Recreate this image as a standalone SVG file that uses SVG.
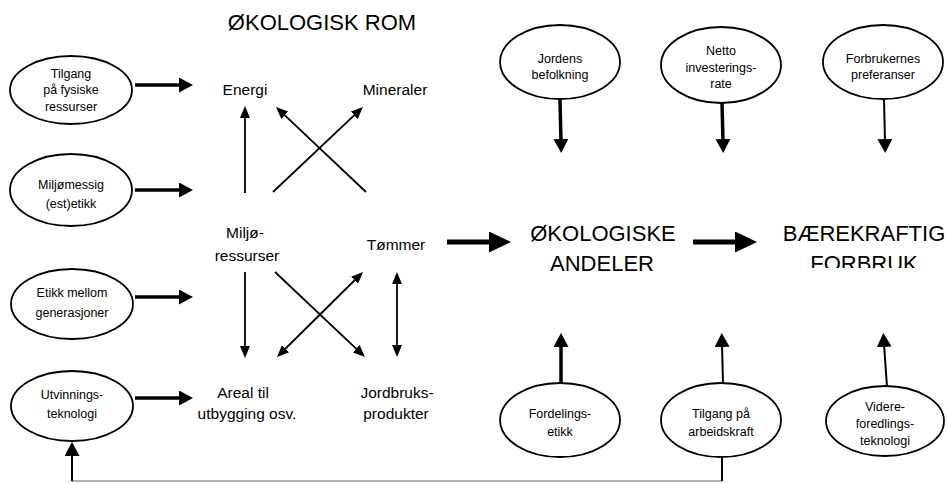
<svg xmlns="http://www.w3.org/2000/svg" width="947" height="483" viewBox="0 0 947 483">
  <style>
    text { font-family: "Liberation Sans", Arial, sans-serif; fill: #000; text-anchor: middle; }
    .small { font-size: 12.5px; }
    .mid { font-size: 15.5px; }
    .big { font-size: 22px; }
    ellipse { fill: #fff; stroke: #000; stroke-width: 1.8; }
    .thin { stroke: #000; stroke-width: 1.8; fill: none; }
    .med { stroke: #000; stroke-width: 3.5; fill: none; }
    .med2 { stroke: #000; stroke-width: 2; fill: none; }
    .thick { stroke: #000; stroke-width: 5; fill: none; }
    .grey { stroke: #999; stroke-width: 1.5; fill: none; }
  </style>
  <defs>
    <!-- arrowheads, sized in user units -->
    <marker id="hs" viewBox="0 0 12 10" refX="2" refY="5" markerWidth="12" markerHeight="10" orient="auto-start-reverse" markerUnits="userSpaceOnUse">
      <path d="M0,0 L12,5 L0,10 z" fill="#000"/>
    </marker>
    <marker id="hm" viewBox="0 0 14 15" refX="3" refY="7.5" markerWidth="14" markerHeight="15" orient="auto" markerUnits="userSpaceOnUse">
      <path d="M0,0 L14,7.5 L0,15 z" fill="#000"/>
    </marker>
    <marker id="hl" viewBox="0 0 22 21" refX="4" refY="10.5" markerWidth="22" markerHeight="21" orient="auto" markerUnits="userSpaceOnUse">
      <path d="M0,0 L22,10.5 L0,21 z" fill="#000"/>
    </marker>
    <clipPath id="cutBottom">
      <rect x="740" y="200" width="207" height="68"/>
    </clipPath>
  </defs>

  <!-- connectors -->
  <g id="connectors">
    <!-- left drivers into the resource space -->
    <line class="med" x1="135" y1="85" x2="182" y2="85" marker-end="url(#hm)"/>
    <line class="med" x1="135" y1="190" x2="182" y2="190" marker-end="url(#hm)"/>
    <line class="med" x1="135" y1="297" x2="182" y2="297" marker-end="url(#hm)"/>
    <line class="med" x1="135" y1="398" x2="182" y2="398" marker-end="url(#hm)"/>

    <!-- resource space -->
    <line class="thin" x1="245" y1="193" x2="245" y2="116" marker-end="url(#hs)"/>
    <line class="thin" x1="273" y1="192" x2="355.7" y2="113.9" marker-end="url(#hs)"/>
    <line class="thin" x1="366" y1="192" x2="283.3" y2="113.9" marker-end="url(#hs)"/>
    <line class="thin" x1="245" y1="272" x2="245" y2="348" marker-end="url(#hs)"/>
    <line class="thin" x1="275" y1="272" x2="357.7" y2="350.1" marker-end="url(#hs)"/>
    <line class="thin" x1="284.1" y1="350" x2="355.9" y2="279" marker-start="url(#hs)" marker-end="url(#hs)"/>
    <line class="thin" x1="397" y1="282" x2="397" y2="347" marker-start="url(#hs)" marker-end="url(#hs)"/>

    <!-- main flow -->
    <line class="thick" x1="447" y1="242" x2="493" y2="242" marker-end="url(#hl)"/>
    <line class="thick" x1="693" y1="242" x2="739" y2="242" marker-end="url(#hl)"/>

    <!-- top influences -->
    <line class="med" x1="560" y1="100" x2="561" y2="142" marker-end="url(#hm)"/>
    <line class="med" x1="722" y1="103" x2="723" y2="142" marker-end="url(#hm)"/>
    <line class="med2" x1="884" y1="100" x2="885" y2="142" marker-end="url(#hm)"/>

    <!-- bottom influences -->
    <line class="med" x1="561" y1="383" x2="561" y2="344" marker-end="url(#hm)"/>
    <line class="med2" x1="723" y1="383" x2="722" y2="344" marker-end="url(#hm)"/>
    <line class="med2" x1="887" y1="387" x2="884" y2="344" marker-end="url(#hm)"/>

    <!-- feedback from labour access to extraction technology -->
    <line class="grey" x1="72" y1="481" x2="722" y2="481"/>
    <line class="med2" x1="722" y1="458" x2="722" y2="481"/>
    <line class="med2" x1="72" y1="481" x2="72" y2="453" marker-end="url(#hm)"/>
  </g>

  <!-- title -->
  <g id="title">
    <text class="big" x="322" y="30">ØKOLOGISK ROM</text>
  </g>

  <!-- left drivers -->
  <g id="tilgang-fysiske">
    <ellipse cx="71" cy="90" rx="61" ry="34"/>
    <text class="small" x="71" y="78">Tilgang</text>
    <text class="small" x="71" y="94">på fysiske</text>
    <text class="small" x="71" y="111">ressurser</text>
  </g>
  <g id="miljomessig">
    <ellipse cx="71" cy="190" rx="61" ry="36"/>
    <text class="small" x="71" y="189">Miljømessig</text>
    <text class="small" x="71" y="208">(est)etikk</text>
  </g>
  <g id="etikk-generasjoner">
    <ellipse cx="72" cy="304" rx="61" ry="35"/>
    <text class="small" x="72" y="297">Etikk mellom</text>
    <text class="small" x="72" y="317">generasjoner</text>
  </g>
  <g id="utvinningsteknologi">
    <ellipse cx="72" cy="406" rx="61" ry="35"/>
    <text class="small" x="72" y="399">Utvinnings-</text>
    <text class="small" x="72" y="418">teknologi</text>
  </g>

  <!-- resource space labels -->
  <g id="energi"><text class="mid" x="245" y="95">Energi</text></g>
  <g id="mineraler"><text class="mid" x="395" y="95">Mineraler</text></g>
  <g id="miljoressurser">
    <text class="mid" x="245" y="238">Miljø-</text>
    <text class="mid" x="247" y="261">ressurser</text>
  </g>
  <g id="tommer"><text class="mid" x="396" y="250">Tømmer</text></g>
  <g id="areal">
    <text class="mid" x="243" y="398">Areal til</text>
    <text class="mid" x="247" y="419">utbygging osv.</text>
  </g>
  <g id="jordbruksprodukter">
    <text class="mid" x="397" y="398">Jordbruks-</text>
    <text class="mid" x="396" y="419">produkter</text>
  </g>

  <!-- outcomes -->
  <g id="okologiske-andeler">
    <text class="big" x="603" y="241">ØKOLOGISKE</text>
    <text class="big" x="602" y="271">ANDELER</text>
  </g>
  <g id="baerekraftig-forbruk">
    <text class="big" x="864" y="241">BÆREKRAFTIG</text>
    <g clip-path="url(#cutBottom)">
      <text class="big" x="864" y="271">FORBRUK</text>
    </g>
  </g>

  <!-- top influences -->
  <g id="jordens-befolkning">
    <ellipse cx="560" cy="62" rx="60" ry="37"/>
    <text class="small" x="560" y="63">Jordens</text>
    <text class="small" x="560" y="79">befolkning</text>
  </g>
  <g id="netto-investeringsrate">
    <ellipse cx="721" cy="65" rx="60" ry="38"/>
    <text class="small" x="721" y="55">Netto</text>
    <text class="small" x="721" y="72">investerings-</text>
    <text class="small" x="721" y="88">rate</text>
  </g>
  <g id="forbrukernes-preferanser">
    <ellipse cx="883" cy="62" rx="60" ry="37"/>
    <text class="small" x="883" y="63">Forbrukernes</text>
    <text class="small" x="883" y="79">preferanser</text>
  </g>

  <!-- bottom influences -->
  <g id="fordelingsetikk">
    <ellipse cx="560" cy="420" rx="60" ry="37"/>
    <text class="small" x="560" y="418">Fordelings-</text>
    <text class="small" x="560" y="436">etikk</text>
  </g>
  <g id="tilgang-arbeidskraft">
    <ellipse cx="721" cy="420" rx="60" ry="37"/>
    <text class="small" x="721" y="418">Tilgang på</text>
    <text class="small" x="721" y="436">arbeidskraft</text>
  </g>
  <g id="videreforedlingsteknologi">
    <ellipse cx="885" cy="421" rx="59" ry="35"/>
    <text class="small" x="885" y="411">Videre-</text>
    <text class="small" x="885" y="428">foredlings-</text>
    <text class="small" x="885" y="445">teknologi</text>
  </g>
</svg>
